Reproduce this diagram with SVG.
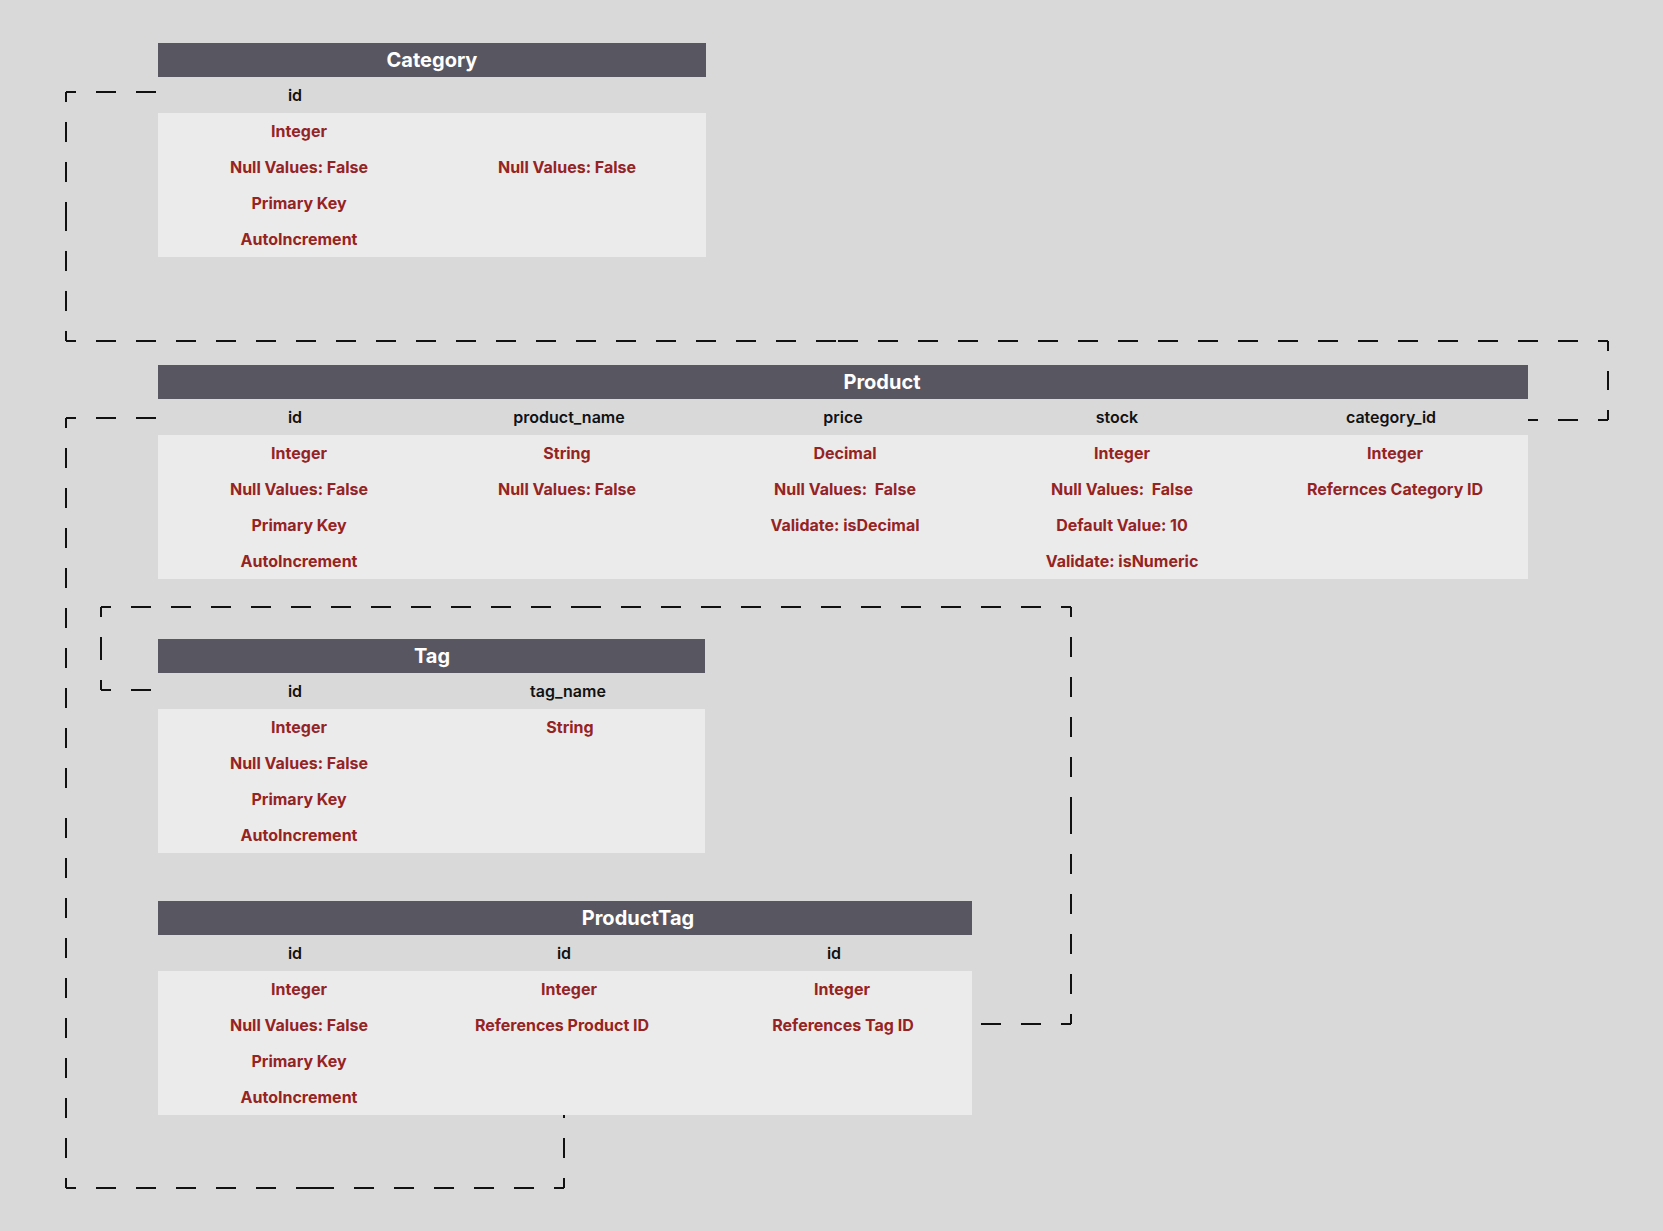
<svg xmlns="http://www.w3.org/2000/svg" width="1663" height="1231" viewBox="0 0 1663 1231">
<style>
.hdr{fill:#585660}
.body{fill:#ebebeb}
.title{font-family:Inter,"Liberation Sans",sans-serif;font-weight:700;font-size:20px;fill:#ffffff;text-anchor:middle}
.col{font-family:Inter,"Liberation Sans",sans-serif;font-weight:600;font-size:16px;fill:#111111;text-anchor:middle}
.val{font-family:Inter,"Liberation Sans",sans-serif;font-weight:700;font-size:16px;fill:#962323;text-anchor:middle;white-space:pre}
.conn{fill:none;stroke:#111111;stroke-width:2;stroke-dasharray:20 20;stroke-dashoffset:10}
</style>
<rect x="0" y="0" width="1663" height="1231" fill="#d9d9d9"/>
<g id="connectors">
<path class="conn" d="M66 92 H158 M66 92 V216 M66 341 V216 M66 341 H837 M1608 341 H837 M1608 341 V380 M1608 420 V380 M1608 420 H1528"/>
<path class="conn" d="M66 418 H158 M66 418 V803 M66 1188 V803 M66 1188 H315 M564 1188 H315 M564 1188 V1115"/>
<path class="conn" d="M101 690 H158 M101 690 V648 M101 607 V648 M101 607 H586 M1071 607 H586 M1071 607 V815 M1071 1024 V815 M1071 1024 H972"/>
</g>
<g id="Category">
<rect class="hdr" x="158" y="43" width="548" height="34"/>
<text class="title" x="432" y="67">Category</text>
<text class="col" x="295" y="101">id</text>
<rect class="body" x="158" y="113" width="548" height="144"/>
<text class="val" x="299" y="137">Integer</text>
<text class="val" x="299" y="173">Null Values: False</text>
<text class="val" x="567" y="173">Null Values: False</text>
<text class="val" x="299" y="209">Primary Key</text>
<text class="val" x="299" y="245">AutoIncrement</text>
</g>
<g id="Product">
<rect class="hdr" x="158" y="365" width="1370" height="34"/>
<text class="title" x="882" y="389">Product</text>
<text class="col" x="295" y="423">id</text>
<text class="col" x="569" y="423">product_name</text>
<text class="col" x="843" y="423">price</text>
<text class="col" x="1117" y="423">stock</text>
<text class="col" x="1391" y="423">category_id</text>
<rect class="body" x="158" y="435" width="1370" height="144"/>
<text class="val" x="299" y="459">Integer</text>
<text class="val" x="299" y="495">Null Values: False</text>
<text class="val" x="299" y="531">Primary Key</text>
<text class="val" x="299" y="567">AutoIncrement</text>
<text class="val" x="567" y="459">String</text>
<text class="val" x="567" y="495">Null Values: False</text>
<text class="val" x="845" y="459">Decimal</text>
<text class="val" x="845" y="495" xml:space="preserve">Null Values:  False</text>
<text class="val" x="845" y="531">Validate: isDecimal</text>
<text class="val" x="1122" y="459">Integer</text>
<text class="val" x="1122" y="495" xml:space="preserve">Null Values:  False</text>
<text class="val" x="1122" y="531">Default Value: 10</text>
<text class="val" x="1122" y="567">Validate: isNumeric</text>
<text class="val" x="1395" y="459">Integer</text>
<text class="val" x="1395" y="495">Refernces Category ID</text>
</g>
<g id="Tag">
<rect class="hdr" x="158" y="639" width="547" height="34"/>
<text class="title" x="432" y="663">Tag</text>
<text class="col" x="295" y="697">id</text>
<text class="col" x="568" y="697">tag_name</text>
<rect class="body" x="158" y="709" width="547" height="144"/>
<text class="val" x="299" y="733">Integer</text>
<text class="val" x="299" y="769">Null Values: False</text>
<text class="val" x="299" y="805">Primary Key</text>
<text class="val" x="299" y="841">AutoIncrement</text>
<text class="val" x="570" y="733">String</text>
</g>
<g id="ProductTag">
<rect class="hdr" x="158" y="901" width="814" height="34"/>
<text class="title" x="638" y="925">ProductTag</text>
<text class="col" x="295" y="959">id</text>
<text class="col" x="564" y="959">id</text>
<text class="col" x="834" y="959">id</text>
<rect class="body" x="158" y="971" width="814" height="144"/>
<text class="val" x="299" y="995">Integer</text>
<text class="val" x="299" y="1031">Null Values: False</text>
<text class="val" x="299" y="1067">Primary Key</text>
<text class="val" x="299" y="1103">AutoIncrement</text>
<text class="val" x="569" y="995">Integer</text>
<text class="val" x="562" y="1031">References Product ID</text>
<text class="val" x="842" y="995">Integer</text>
<text class="val" x="843" y="1031">References Tag ID</text>
</g>
</svg>
